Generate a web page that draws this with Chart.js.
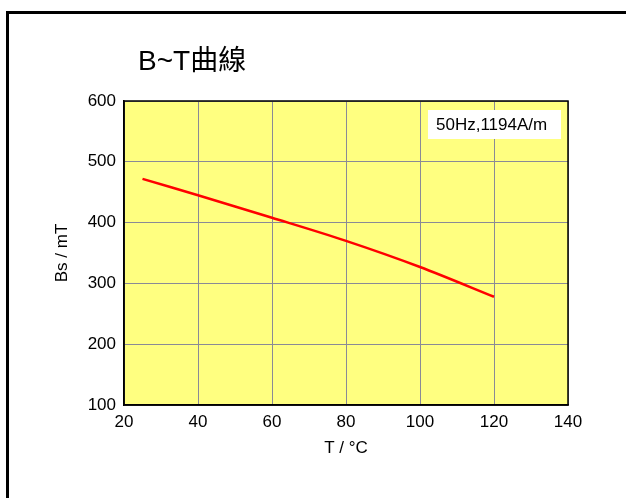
<!DOCTYPE html>
<html>
<head>
<meta charset="utf-8">
<script src="https://cdn.jsdelivr.net/npm/chart.js@4/dist/chart.umd.min.js"></script>
<style>
  html, body { margin: 0; padding: 0; background: #fff; }
  #wrap { width: 626px; height: 498px; }
</style>
</head>
<body>
<div id="wrap"><canvas id="draw-on-me" width="626" height="498"></canvas></div>
<script>
'use strict';

const chartTitle = 'B~T曲線';
const noteText = '50Hz,1194A/m';
const temps = [25, 40, 60, 80, 100, 120]; // T / °C
const bsValues = [472, 445, 408, 370, 327, 278]; // Bs / mT
const xTicks = [20, 40, 60, 80, 100, 120, 140];
const yTicks = [100, 200, 300, 400, 500, 600];

const points = temps.map((t, i) => ({ x: t, y: bsValues[i] }));

// frame, title, yellow plot background and the note box
const decor = {
  id: 'decor',
  beforeDraw (chart) {
    const ctx = chart.ctx;
    const a = chart.chartArea;
    ctx.save();
    ctx.fillStyle = '#000';
    ctx.fillRect(6, 11, 626, 3);
    ctx.fillRect(6, 11, 3, 498);
    ctx.fillStyle = '#FFFF80';
    ctx.fillRect(a.left, a.top, a.right - a.left, a.bottom - a.top);
    ctx.fillStyle = '#000';
    ctx.font = '28px "Liberation Sans", Arial, "Noto Sans CJK TC", sans-serif';
    ctx.textBaseline = 'alphabetic';
    ctx.fillText(chartTitle, 138, 70);
    ctx.restore();
  },
  afterDatasetsDraw (chart) {
    const ctx = chart.ctx;
    const a = chart.chartArea;
    ctx.save();
    ctx.strokeStyle = '#000';
    ctx.lineWidth = 1.5;
    ctx.strokeRect(a.left, a.top, a.right - a.left, a.bottom - a.top);
    ctx.fillStyle = '#fff';
    ctx.fillRect(428, 110, 133, 29);
    ctx.fillStyle = '#000';
    ctx.font = '17px "Liberation Sans", Arial, sans-serif';
    ctx.textBaseline = 'alphabetic';
    ctx.fillText(noteText, 436, 130);
    ctx.restore();
  }
};

const tickFont = { family: '"Liberation Sans", Arial, sans-serif', size: 17 };

new Chart(document.getElementById('draw-on-me').getContext('2d'), {
  type: 'scatter',
  data: {
    datasets: [{
      data: points,
      showLine: true,
      borderColor: '#FF0000',
      borderWidth: 2.5,
      pointRadius: 0,
      tension: 0.3,
      fill: false
    }]
  },
  options: {
    responsive: false,
    animation: false,
    layout: { padding: { left: 0, top: 101, right: 58, bottom: 0 } },
    plugins: { legend: { display: false }, tooltip: { enabled: false } },
    scales: {
      x: {
        type: 'linear',
        min: 20,
        max: 140,
        afterBuildTicks (scale) { scale.ticks = xTicks.map(v => ({ value: v })); },
        afterFit (scale) { scale.height = 93; },
        grid: { color: '#8a8a96', lineWidth: 1, drawTicks: false },
        border: { color: '#000', width: 1.5 },
        ticks: { color: '#000', font: tickFont, padding: 7, maxRotation: 0 },
        title: {
          display: true,
          text: 'T / °C',
          color: '#000',
          font: tickFont,
          padding: { top: 0, bottom: 39 }
        }
      },
      y: {
        type: 'linear',
        min: 100,
        max: 600,
        afterBuildTicks (scale) { scale.ticks = yTicks.map(v => ({ value: v })); },
        afterFit (scale) { scale.width = 124; },
        grid: { color: '#8a8a96', lineWidth: 1, drawTicks: false },
        border: { color: '#000', width: 1.5 },
        ticks: { color: '#000', font: tickFont, padding: 8 },
        title: {
          display: true,
          text: 'Bs / mT',
          color: '#000',
          font: tickFont,
          padding: { top: 52, bottom: 0 }
        }
      }
    }
  },
  plugins: [decor]
});
</script>
</body>
</html>
